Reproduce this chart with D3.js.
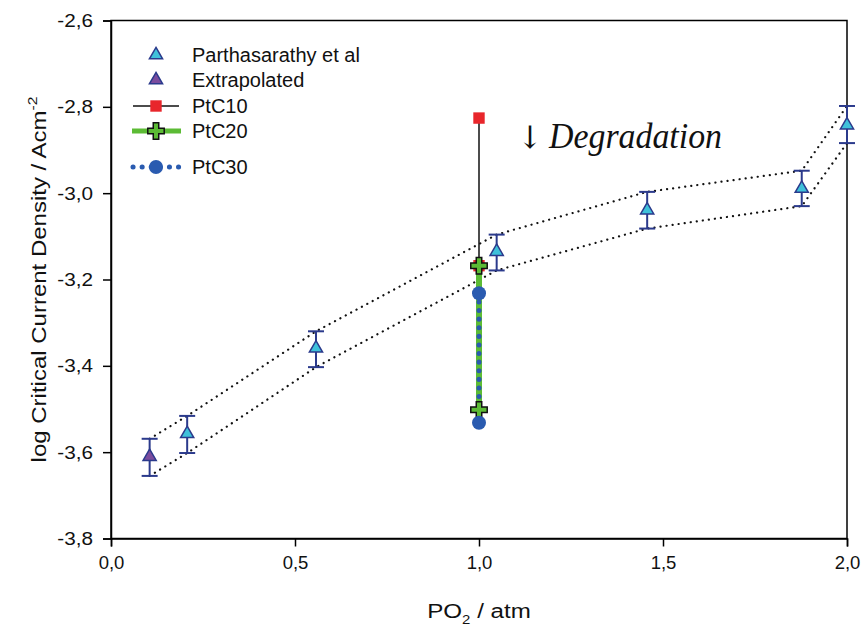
<!DOCTYPE html>
<html><head><meta charset="utf-8">
<script src="https://cdn.jsdelivr.net/npm/d3@7"></script>
<style>body{margin:0;background:#fff}svg{display:block}svg{font-family:Arial,"Liberation Sans",sans-serif}</style>
</head><body><div id="chart"></div>
<script>
// Parthasarathy et al data (x = PO2, y = log current, with error bar ends)
const parthX    = [0.207, 0.557, 1.048, 1.457, 1.877, 2.0];
const parthY    = [-3.555, -3.357, -3.133, -3.037, -2.987, -2.840];
const parthHigh = [-3.516, -3.320, -3.096, -2.997, -2.948, -2.798];
const parthLow  = [-3.602, -3.403, -3.179, -3.082, -3.030, -2.884];
// Extrapolated point
const extraX    = [0.105];
const extraY    = [-3.608];
const extraHigh = [-3.569];
const extraLow  = [-3.655];
// Degradation series at PO2 = 1.0
const ptc10X = [1.0, 1.0], ptc10Y = [-2.826, -3.168];
const ptc20X = [1.0, 1.0], ptc20Y = [-3.168, -3.502];
const ptc30X = [1.0, 1.0], ptc30Y = [-3.232, -3.532];
const xTicks = [0, 0.5, 1.0, 1.5, 2.0];
const yTicks = [-3.8, -3.6, -3.4, -3.2, -3.0, -2.8, -2.6];
const legendLabels = ["Parthasarathy et al", "Extrapolated", "PtC10", "PtC20", "PtC30"];

const W = 861, H = 627;
const SANS = "Arial, 'Liberation Sans', sans-serif";
const SERIF = "'Liberation Serif', 'Times New Roman', 'DejaVu Serif', serif";
const m = {left: 111, top: 20.5, right: 861 - 847, bottom: 627 - 538.5};
const svg = d3.select("#chart").append("svg").attr("width", W).attr("height", H);
const x = d3.scaleLinear().domain([0, 2]).range([m.left, W - m.right]);
const y = d3.scaleLinear().domain([-3.8, -2.6]).range([H - m.bottom, m.top]);
const fmt = v => d3.format(".1f")(v).replace(".", ",").replace("−", "-");

// frame
svg.append("rect").attr("x", x(0)).attr("y", y(-2.6)).attr("width", x(2) - x(0)).attr("height", y(-3.8) - y(-2.6))
  .attr("fill", "none").attr("stroke", "#000").attr("stroke-width", 1.5);
const gx = svg.append("g").attr("transform", `translate(0,${y(-3.8)})`)
  .call(d3.axisBottom(x).tickValues(xTicks).tickFormat(fmt).tickSize(8).tickPadding(9));
const gy = svg.append("g").attr("transform", `translate(${x(0)},0)`)
  .call(d3.axisLeft(y).tickValues(yTicks).tickFormat(fmt).tickSize(8).tickPadding(10));
[gx, gy].forEach(g => {
  g.select(".domain").attr("stroke-width", 1.5);
  g.selectAll(".tick line").attr("stroke-width", 1.5);
  g.selectAll(".tick text").style("font-size", "18.5px").style("font-family", SANS).attr("fill", "#111");
});
gy.selectAll(".tick text").attr("transform", "scale(1.12,1)").attr("x", -18 / 1.12);

// axis titles
const xt = svg.append("text").attr("transform", `translate(${x(1)},618) scale(1.15,1)`).attr("text-anchor", "middle")
  .style("font-size", "21px").style("font-family", SANS).attr("fill", "#111");
xt.append("tspan").text("PO");
xt.append("tspan").text("2").style("font-size", "13px").attr("dy", 6);
xt.append("tspan").text(" / atm").attr("dy", -6);
const yt = svg.append("text").attr("transform", `translate(46,${(y(-2.6) + y(-3.8)) / 2}) rotate(-90) scale(1.2,1)`)
  .attr("text-anchor", "middle").style("font-size", "20px").style("font-family", SANS).attr("fill", "#111");
yt.append("tspan").text("log Critical Current Density / Acm");
yt.append("tspan").text("-2").style("font-size", "13px").attr("dy", -9);

// dotted envelope lines
const allX = extraX.concat(parthX);
const hiY = extraHigh.concat(parthHigh), loY = extraLow.concat(parthLow);
const line = d3.line().x(d => x(d[0])).y(d => y(d[1]));
[hiY, loY].forEach(arr => {
  svg.append("path").datum(allX.map((v, i) => [v, arr[i]])).attr("d", line)
    .attr("fill", "none").attr("stroke", "#111").attr("stroke-width", 2.2)
    .attr("stroke-dasharray", "0.1 6").attr("stroke-linecap", "round");
});

// error bars + triangles
const tri = d3.symbol().type(d3.symbolTriangle).size(75);
function triSeries(xs, ys, hs, ls, fill) {
  xs.forEach((xv, i) => {
    const g = svg.append("g");
    g.append("line").attr("x1", x(xv)).attr("x2", x(xv)).attr("y1", y(hs[i])).attr("y2", y(ls[i])).attr("stroke", "#2b3a8c").attr("stroke-width", 2);
    [hs[i], ls[i]].forEach(v => g.append("line").attr("x1", x(xv) - 8).attr("x2", x(xv) + 8).attr("y1", y(v)).attr("y2", y(v)).attr("stroke", "#2b3a8c").attr("stroke-width", 2));
    g.append("path").attr("d", tri).attr("transform", `translate(${x(xv)},${y(ys[i]) + 1})`)
      .attr("fill", fill).attr("stroke", "#2b3a8c").attr("stroke-width", 1.5);
  });
}
triSeries(parthX, parthY, parthHigh, parthLow, "#3fc1da");
triSeries(extraX, extraY, extraHigh, extraLow, "#7b4c9e");

// PtC10 black line + red squares
const pts = (xs, ys) => xs.map((v, i) => [v, ys[i]]);
svg.append("path").datum(pts(ptc10X, ptc10Y)).attr("d", line).attr("stroke", "#111").attr("stroke-width", 1.5).attr("fill", "none");
const sq = d3.symbol().type(d3.symbolSquare).size(130);
pts(ptc10X, ptc10Y).forEach(p => svg.append("path").attr("d", sq).attr("transform", `translate(${x(p[0])},${y(p[1])})`).attr("fill", "#e8262b"));
// PtC20 green line + plus markers
svg.append("path").datum(pts(ptc20X, ptc20Y)).attr("d", line).attr("stroke", "#5cbb35").attr("stroke-width", 6).attr("fill", "none");
// PtC30 blue dotted line + circles
svg.append("path").datum(pts(ptc30X, ptc30Y)).attr("d", line).attr("stroke", "#2a5bb0").attr("stroke-width", 5)
  .attr("stroke-dasharray", "0.1 8.5").attr("stroke-linecap", "round").attr("fill", "none");
const plus = d3.symbol().type(d3.symbolCross).size(150);
pts(ptc20X, ptc20Y).forEach(p => svg.append("path").attr("d", plus).attr("transform", `translate(${x(p[0])},${y(p[1])})`).attr("fill", "#5cbb35").attr("stroke", "#111").attr("stroke-width", 1.5));
pts(ptc30X, ptc30Y).forEach(p => svg.append("circle").attr("cx", x(p[0])).attr("cy", y(p[1])).attr("r", 7).attr("fill", "#2a5bb0"));

// Degradation annotation
svg.append("text").attr("x", 517).attr("y", 148).style("font-size", "31px").style("font-family", "'DejaVu Serif', serif").attr("fill", "#111").text("↓");
svg.append("text").attr("x", 549).attr("y", 148).style("font-size", "36px").style("font-family", SERIF).style("font-style", "italic").attr("fill", "#111")
  .attr("textLength", 173).attr("lengthAdjust", "spacingAndGlyphs").text("Degradation");

// legend
const lg = svg.append("g");
const ly = [55, 80, 106, 131, 167], lsx = 156, ltx = 192;
legendLabels.forEach((t, i) => lg.append("text").attr("x", ltx).attr("y", ly[i]).attr("dy", "0.35em").style("font-size", "20px").style("font-family", SANS).attr("fill", "#111").text(t));
lg.append("path").attr("d", tri).attr("transform", `translate(${lsx},${ly[0]})`).attr("fill", "#3fc1da").attr("stroke", "#2b3a8c").attr("stroke-width", 1.5);
lg.append("path").attr("d", tri).attr("transform", `translate(${lsx},${ly[1]})`).attr("fill", "#7b4c9e").attr("stroke", "#2b3a8c").attr("stroke-width", 1.5);
lg.append("line").attr("x1", 133).attr("x2", 179).attr("y1", ly[2]).attr("y2", ly[2]).attr("stroke", "#111").attr("stroke-width", 1.5);
lg.append("path").attr("d", sq).attr("transform", `translate(${lsx},${ly[2]})`).attr("fill", "#e8262b");
lg.append("line").attr("x1", 132).attr("x2", 181).attr("y1", ly[3]).attr("y2", ly[3]).attr("stroke", "#5cbb35").attr("stroke-width", 5);
lg.append("path").attr("d", plus).attr("transform", `translate(${lsx},${ly[3]})`).attr("fill", "#5cbb35").attr("stroke", "#111").attr("stroke-width", 1.5);
lg.append("line").attr("x1", 133).attr("x2", 179).attr("y1", ly[4]).attr("y2", ly[4]).attr("stroke", "#2a5bb0").attr("stroke-width", 5)
  .attr("stroke-dasharray", "0.1 9").attr("stroke-linecap", "round");
lg.append("circle").attr("cx", lsx).attr("cy", ly[4]).attr("r", 7).attr("fill", "#2a5bb0");
</script></body></html>
